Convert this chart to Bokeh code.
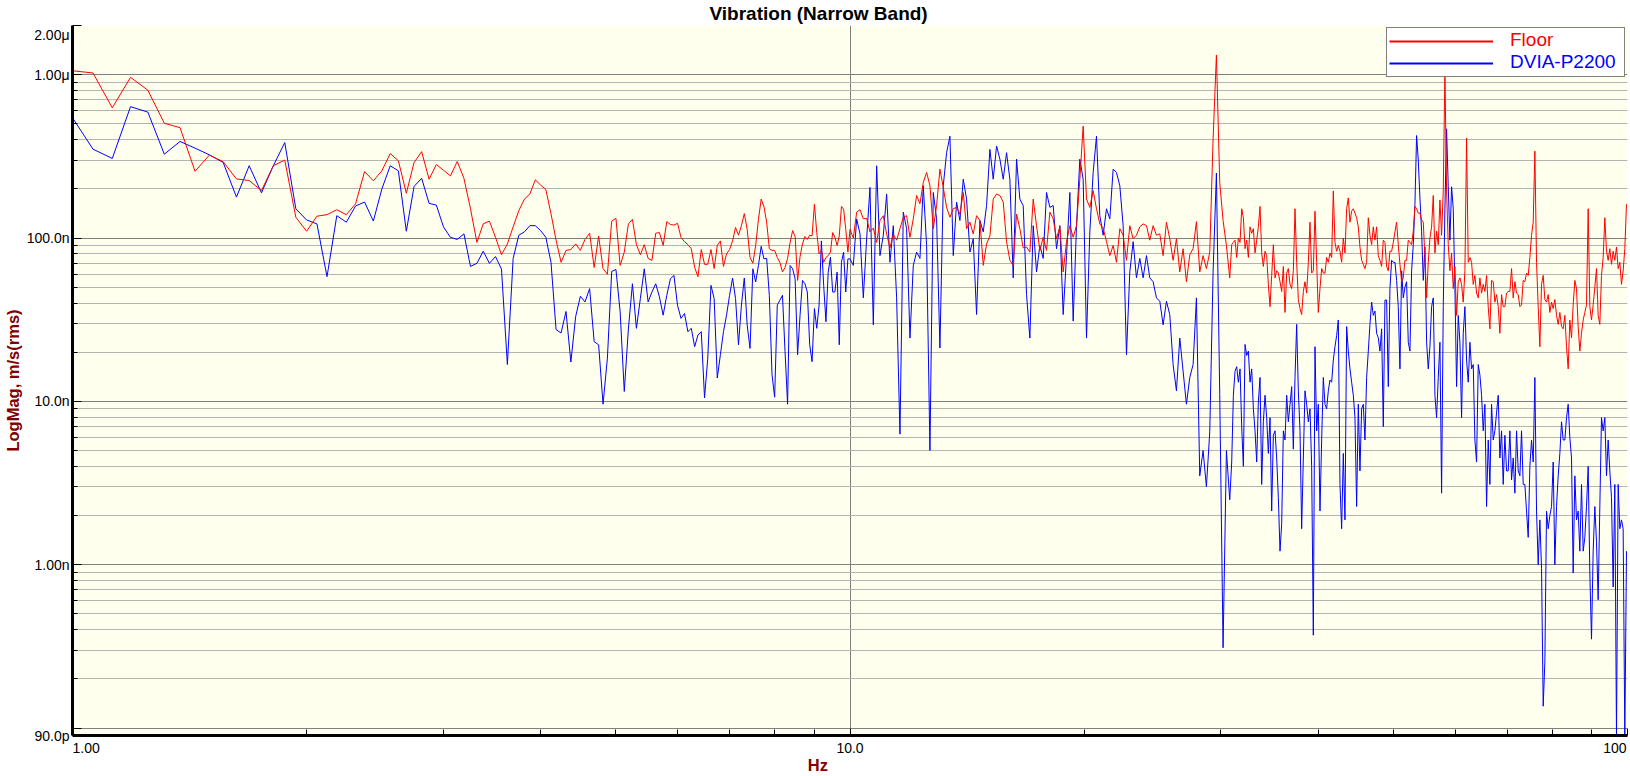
import numpy as np
from bokeh.plotting import figure
from bokeh.models import Range1d, FixedTicker, Legend, LegendItem
from bokeh.embed import file_html
from bokeh.resources import INLINE

# ---------------- data (magnitudes in nm/s rms) ----------------
# 1 Hz .. 10 Hz, bins every 0.0625 Hz
LOW_START, LOW_STEP = 1.0, 0.0625
floor_low = [1057, 1024, 627, 963, 803, 504, 474, 256, 322, 293, 230, 225, 195, 277, 300, 134,
             110, 136, 139, 149, 139, 162, 255, 224, 258, 329, 297, 188, 290, 338, 229, 282, 260, 240, 294, 232,
             151, 94, 122, 127, 101, 79, 92, 117, 147, 173, 186, 227, 211, 198, 141, 97, 71, 84, 85, 92, 84,
             98, 107, 66, 103, 65, 60, 127, 132, 68, 82, 122, 130, 91, 79, 91, 75, 73, 107, 108, 90,
             126, 121, 120, 123, 101, 95, 91, 86, 66, 58, 85, 69, 69, 85, 65, 90, 96, 67, 80, 85,
             96, 116, 104, 119, 141, 113, 76, 70, 90, 130, 173, 156, 125, 86, 84, 84, 76, 71, 62, 66,
             75, 94, 111, 102, 55, 77, 92, 102, 98, 104, 103, 161, 108, 80, 84, 71, 76, 78, 82, 108,
             101, 90, 103, 156, 150, 113, 82, 113]
dvia_low = [545, 350, 307, 637, 590, 326, 390, 355, 323, 290, 178, 277, 189, 277, 384, 151,
            129, 122, 58, 137, 125, 157, 166, 127, 200, 277, 258, 110, 207, 232, 163, 159, 117, 101, 98, 106,
            67, 70, 83, 70, 77, 64.5, 16.8, 75, 104, 109, 119, 119, 111, 101, 71, 27.5, 26.2, 35.5, 17.4, 33, 44,
            40.6, 49, 23.2, 22.2, 9.6, 18.4, 62.4, 64.2, 35.3, 11.5, 27.7, 52.5, 28.0, 42.6, 64.8, 40.6,
            46.7, 52.5, 43.6, 33.7, 44.6, 56.3, 59, 38.8, 32.2, 34.5, 26.7, 28, 21.6, 25.5, 26.7, 10.5,
            18.4, 51.3, 42.6, 13.9, 19.3, 26.7, 33.7, 44.6, 56.9, 42.6, 22.2, 38.8, 56.9, 29.3, 21.1, 64.8,
            53.8, 67.9, 89, 74.5, 75.2, 44.6, 14.6, 10.6, 38.8, 41.6, 44.6, 20.2, 9.6, 67.9, 64.8, 56.3,
            19.3, 33.7, 55, 52.5, 46.7, 22.2, 17.5, 37, 28, 38.8, 96, 51.3, 30.7, 61.8, 76.3, 46.7,
            46.7, 61.8, 22.2, 71.1, 81.8, 46.7, 74.5, 74.5]

# 10.1 Hz .. 30.8 Hz (log-spaced read-out)
MID_START, MID_END = 10.099, 30.79
floor_mid = [100, 144, 149, 131, 132, 109, 115, 94, 128, 137, 106, 87, 105, 97, 114, 134, 137, 101, 131, 182,
             162, 219, 252, 209, 114, 158, 264, 204, 154, 134, 151, 154, 140, 190, 114, 125, 106, 137, 128, 68,
             92, 103, 173, 186, 182, 166, 95, 73, 68, 140, 114, 87, 88, 82, 173, 119, 84, 101, 84, 144,
             131, 99, 117, 62, 95, 119, 101, 119, 229, 484, 173, 154, 195, 151, 122, 115, 95, 78, 90, 71,
             114, 104, 73, 119, 99, 104, 117, 122, 119, 97, 119, 104, 106, 78, 125, 99, 73, 99, 62, 86,
             54, 79, 86, 126, 62, 78, 65, 82, 402, 1320, 219, 128, 90, 57]
dvia_mid = [68, 131, 106, 43, 99, 204, 29.4, 277, 78, 104, 186, 71, 119, 43, 6.3, 144, 114, 24.4, 68, 82,
            75, 209, 90, 5.0, 190, 131, 21.2, 209, 333, 420, 78, 166, 128, 229, 173, 82, 99, 34, 128, 109,
            158, 349, 229, 366, 304, 229, 333, 229, 57, 304, 173, 158, 45, 24.4, 119, 62, 90, 75, 190, 154,
            158, 86, 119, 34, 78, 190, 31, 119, 304, 229, 24.4, 109, 252, 420, 137, 104, 151, 131, 264, 252,
            209, 119, 19.3, 62, 95, 57, 75, 57, 78, 57, 54, 43, 41, 29.4, 41, 34, 16.8, 11.6, 24.4, 15.3,
            9.6, 14, 16.8, 43, 3.5, 5.0, 3.0, 6.5, 62, 250, 11, 0.31, 5.0, 2.5]

# 31 Hz .. 99.7 Hz (log-spaced read-out)
HIGH_START, HIGH_END = 30.97, 99.70
floor_high = [91, 94, 97, 76, 100, 94, 151, 133, 86, 97, 76, 117, 107, 114, 81, 97, 117, 156, 81, 67,
              83, 78, 52, 38, 59, 91, 57, 63, 61, 54, 47, 67, 35, 61, 65, 52, 49, 63, 151, 71,
              42, 37, 34, 47, 54, 46, 71, 125, 61, 63, 146, 71, 35, 49, 65, 61, 61, 76, 71, 81,
              76, 194, 94, 83, 90, 83, 71, 100, 81, 151, 176, 125, 146, 151, 142, 133, 117, 88, 73, 69,
              65, 71, 133, 104, 91, 117, 97, 117, 78, 73, 67, 97, 94, 67, 63, 83, 83, 94, 109, 125,
              91, 69, 54, 57, 73, 73, 97, 94, 91, 110, 156, 151, 142, 142, 129, 125, 76, 43, 71, 100,
              117, 182, 81, 110, 91, 171, 104, 194, 1050, 194, 91, 63, 81, 49, 67, 33.6, 54, 57, 52, 40.5,
              63, 410, 71, 76, 71, 52, 59, 46, 43, 57, 46, 52, 47, 59, 38, 27.8, 55, 54, 40.5, 45,
              38, 26.1, 45, 38, 38, 46, 47, 47, 65, 43, 54, 46, 45, 38, 39, 55, 54, 61, 59, 76,
              104, 125, 340, 71, 38, 21.6, 52, 59, 42, 40.5, 45, 35, 40.5, 37, 42, 33.6, 29.6, 35, 28.7, 27.8,
              33.6, 21.6, 15.8, 31.5, 24.5, 39, 55, 49, 28.7, 20.3, 26.1, 31.5, 35, 39, 151, 38, 31.5, 39, 50, 65,
              33.6, 29.6, 59, 76, 133, 83, 73, 86, 69, 83, 73, 88, 65, 71, 52, 63, 86, 161]
dvia_high = [4.25, 10.9, 15.3, 16.3, 13.1, 15.8, 7.0, 4.0, 22.3, 19.1, 20.3, 13.1, 15.8, 9.0, 6.6, 4.25, 9.9, 14.0, 3.1, 7.5,
             10.9, 7.95, 4.8, 7.95, 2.13, 6.2, 6.6, 4.5, 2.57, 1.21, 1.77, 6.6, 5.8, 10.9, 7.5, 9.6, 12.3, 5.1, 14.0, 29.6,
             11.6, 6.6, 1.66, 4.5, 11.6, 9.6, 7.5, 9.0, 4.0, 0.37, 21.6, 6.6, 9.6, 2.13, 5.8, 14.0, 9.6, 9.0, 11.6, 13.5,
             13.1, 17.9, 21.6, 25.3, 31.5, 3.1, 1.66, 4.8, 1.88, 28.7, 20.3, 15.8, 13.1, 10.9, 7.95, 2.27, 9.6, 3.75, 9.0, 9.6,
             5.8, 14.0, 20.3, 29.6, 40.5, 33.6, 35.7, 26.1, 24.5, 20.3, 27.8, 7.0, 41.7, 41.7, 12.3, 49, 73, 71, 71, 55,
             38, 15.8, 63, 43, 50, 54, 23.0, 20.3, 63, 91, 161, 424, 300, 176, 110, 55, 88, 23, 15.8, 21.6,
             38, 43, 10.9, 7.95, 14.0, 23.0, 2.74, 38, 151, 466, 206, 97, 206, 151, 49, 12.3, 33.6, 23.0, 7.95, 26.1,
             38, 17.9, 13.1, 23.0, 15.8, 16.8, 5.8, 4.25, 16.8, 14.5, 10.9, 6.6, 9.6, 2.27, 5.8, 3.1, 9.6, 5.8, 6.6, 8.5,
             10.9, 4.5, 6.6, 3.1, 6.2, 3.75, 3.75, 6.6, 3.3, 4.5, 2.74, 6.6, 3.75, 3.5, 6.6, 3.1, 3.1, 2.13, 1.47, 4.0,
             5.8, 4.25, 14.0, 2.13, 1.0, 1.88, 0.95, 0.136, 0.254, 2.13, 1.66, 2.0, 2.27, 4.25, 1.0, 2.27, 3.5, 4.8, 7.5, 5.8,
             5.8, 7.95, 9.6, 6.0, 4.5, 0.89, 3.5, 1.88, 2.13, 1.21, 3.1, 1.21, 1.47, 2.27, 4.0, 0.89, 0.35, 1.21, 2.27, 1.38,
             0.61, 2.27, 7.95, 6.6, 7.95, 3.5, 5.8, 3.75, 2.57, 0.73, 3.1, 0.088, 3.1, 1.66, 1.88, 1.66, 0.088, 1.21]

series_names = ["Floor", "DVIA-P2200"]
series_colors = ["#FF0000", "#0000FF"]

NB = "\u00a0"
x_tick_values = [1, 10, 100]
x_tick_labels = [NB * 7 + "1.00", "10.0", "100" + NB]
y_tick_values = [9e-11, 1e-10, 1e-9, 1e-8, 1e-7, 1e-6, 2e-6]
y_tick_labels = ["90.0p", "", "1.00n", "10.0n", "100.0n", "1.00\u03bc", "\n2.00\u03bc"]


def build(low, mid, high):
    f = np.concatenate([
        LOW_START + LOW_STEP * np.arange(len(low)),
        np.geomspace(MID_START, MID_END, len(mid)),
        np.geomspace(HIGH_START, HIGH_END, len(high)),
    ])
    v = np.concatenate([low, mid, high]).astype(float) * 1e-9
    return f, v


f_floor, v_floor = build(floor_low, floor_mid, floor_high)
f_dvia, v_dvia = build(dvia_low, dvia_mid, dvia_high)

# ---------------- figure ----------------
p = figure(width=1630, height=776, x_axis_type="log", y_axis_type="log",
           x_range=Range1d(1, 100), y_range=Range1d(9e-11, 2e-6),
           output_backend="svg", toolbar_location=None,
           min_border_left=71, min_border_right=3, min_border_top=25, min_border_bottom=36,
           background_fill_color="#FFFFEE", border_fill_color="white", outline_line_color=None)

p.title.text = "Vibration (Narrow Band)"
p.title.align = "left"
p.title.offset = 637
p.title.standoff = 0
p.title.vertical_align = "top"
p.title.text_font = "Liberation Sans"
p.title.text_font_style = "bold"
p.title.text_font_size = "19px"
p.title.text_color = "black"

minor_y = [k * 10.0 ** e for e in range(-10, -6) for k in range(2, 10)]
minor_x = [k * 10.0 ** e for e in range(0, 2) for k in range(2, 10)]

p.xaxis.ticker = FixedTicker(ticks=x_tick_values, minor_ticks=minor_x)
p.yaxis.ticker = FixedTicker(ticks=y_tick_values, minor_ticks=minor_y)
p.xaxis.major_label_overrides = dict(zip(x_tick_values, x_tick_labels))
p.yaxis.major_label_overrides = dict(zip(y_tick_values, y_tick_labels))

for ax in (p.xaxis, p.yaxis):
    ax.axis_line_width = 3
    ax.axis_line_color = "black"
    ax.major_tick_out = 0
    ax.minor_tick_out = 0
    ax.major_tick_line_color = "black"
    ax.minor_tick_line_color = "black"
    ax.major_label_text_font = "Liberation Sans"
    ax.major_label_text_font_size = "14px"
    ax.major_label_text_color = "black"
    ax.axis_label_text_font = "Liberation Sans"
    ax.axis_label_text_font_style = "bold"
    ax.axis_label_text_font_size = "16.5px"
    ax.axis_label_text_color = "#800000"
p.xaxis.major_tick_in = 7
p.xaxis.minor_tick_in = 6
p.yaxis.major_tick_in = 9
p.yaxis.minor_tick_in = 5
p.xaxis.major_label_standoff = 4
p.yaxis.major_label_standoff = 3
p.xaxis.axis_label = "Hz" + NB * 14
p.xaxis.axis_label_standoff = -3
p.yaxis.axis_label = "LogMag, m/s(rms)"
p.yaxis.axis_label_standoff = 2

p.xgrid.ticker = FixedTicker(ticks=[10])
p.xgrid.grid_line_color = "#808080"
p.ygrid.ticker = FixedTicker(ticks=[1e-10, 1e-9, 1e-8, 1e-7, 1e-6], minor_ticks=minor_y)
p.ygrid.grid_line_color = "#808080"
p.ygrid.minor_grid_line_color = "#B4B4B4"

r_dvia = p.line(f_dvia, v_dvia, line_color=series_colors[1], line_width=1)
r_floor = p.line(f_floor, v_floor, line_color=series_colors[0], line_width=1)

# legend proxies: one-point lines (draw nothing in the plot) for thicker legend strokes,
# and transparent ones so that each label can get its own colour
proxy_floor = p.line(f_floor[:1], v_floor[:1], line_color=series_colors[0], line_width=2)
proxy_dvia = p.line(f_dvia[:1], v_dvia[:1], line_color=series_colors[1], line_width=2)
proxy_none = p.line(f_floor[:1], v_floor[:1], line_alpha=0)

leg_common = dict(location="top_right", margin=2, padding=2, spacing=0,
                  glyph_width=104, glyph_height=22, label_height=22, label_width=113,
                  label_standoff=16, label_text_font="Liberation Sans", label_text_font_size="19px")

leg_box = Legend(items=[LegendItem(label=series_names[0], renderers=[proxy_floor]),
                        LegendItem(label=series_names[1], renderers=[proxy_dvia])],
                 border_line_color="black", border_line_width=1.5,
                 background_fill_color="white", background_fill_alpha=1,
                 label_text_alpha=0, **leg_common)
leg_floor = Legend(items=[LegendItem(label=series_names[0], renderers=[proxy_none])],
                   border_line_alpha=0, background_fill_alpha=0,
                   label_text_color=series_colors[0], **leg_common)
leg_dvia = Legend(items=[LegendItem(label=NB, renderers=[proxy_none]),
                         LegendItem(label=series_names[1], renderers=[proxy_none])],
                  border_line_alpha=0, background_fill_alpha=0,
                  label_text_color=series_colors[1], **leg_common)
p.add_layout(leg_box)
p.add_layout(leg_floor)
p.add_layout(leg_dvia)

open("out.html", "w").write(file_html(p, INLINE, title="Vibration (Narrow Band)"))
